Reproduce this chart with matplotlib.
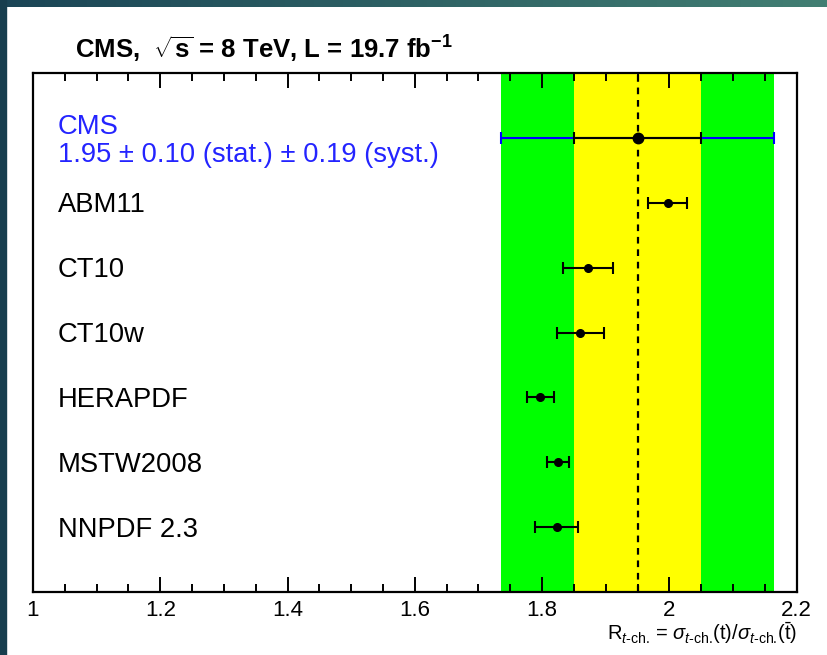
import numpy as np
import matplotlib
matplotlib.use("Agg")
import matplotlib.pyplot as plt
from matplotlib.colors import LinearSegmentedColormap
from matplotlib.patches import Rectangle
from matplotlib.ticker import MultipleLocator, FuncFormatter

plt.rcParams["font.family"] = ["Liberation Sans", "DejaVu Sans"]
plt.rcParams["mathtext.fontset"] = "custom"
plt.rcParams["mathtext.rm"] = "Liberation Sans"
plt.rcParams["mathtext.it"] = "Liberation Sans:italic"
plt.rcParams["mathtext.bf"] = "Liberation Sans:bold"

# --- datos ---
modelos = ["ABM11", "CT10", "CT10w", "HERAPDF", "MSTW2008", "NNPDF 2.3"]
ratio_teo = [1.997, 1.872, 1.860, 1.797, 1.825, 1.823]
err_teo = [0.030, 0.039, 0.037, 0.021, 0.018, 0.034]

cms_valor = 1.95
cms_stat = 0.10
cms_syst = 0.19
cms_total = np.hypot(cms_stat, cms_syst)

fig = plt.figure(figsize=(8.28, 6.55), dpi=100)

# fondo de la diapositiva (franja superior y lateral)
bg = fig.add_axes([0, 0, 1, 1], zorder=-1)
bg.set_xlim(0, 828)
bg.set_ylim(655, 0)
bg.axis("off")
cmap_bg = LinearSegmentedColormap.from_list("teal", ["#1b4556", "#427f73"])
bg.imshow(np.linspace(0, 1, 256)[None, :], extent=[0, 828, 7, 0],
          aspect="auto", cmap=cmap_bg)
bg.add_patch(Rectangle((0, 0), 6, 655, color="#173e4e"))

ax = fig.add_axes([33 / 828, 1 - 592 / 655, (796.7 - 33) / 828, (592 - 73) / 655])
ax.set_facecolor("white")

# bandas de incertidumbre de CMS
ax.axvspan(cms_valor - cms_total, cms_valor + cms_total, color="#00ff00", lw=0, zorder=0)
ax.axvspan(cms_valor - cms_stat, cms_valor + cms_stat, color="#ffff00", lw=0, zorder=0)
ax.axvline(cms_valor, color="black", lw=1.6, ls=(0, (3, 2.6)), zorder=1)

# medida CMS
ax.errorbar(cms_valor, 0, xerr=cms_total, fmt="none", ecolor="blue",
            elinewidth=1.5, capsize=4, capthick=1.5, zorder=3)
ax.errorbar(cms_valor, 0, xerr=cms_stat, fmt="o", color="black", ms=7.5,
            elinewidth=1.5, capsize=4, capthick=1.5, zorder=4)

# predicciones teoricas
filas = np.arange(1, len(modelos) + 1)
ax.errorbar(ratio_teo, filas, xerr=err_teo, fmt="o", color="black", ms=5.5,
            elinewidth=1.5, capsize=4, capthick=1.5, zorder=4)

x_texto = 1.039
ax.text(x_texto, -0.057, "CMS", color="#2424ff", fontsize=19.7, va="baseline")
ax.text(x_texto, 0.375, "1.95 \u00b1 0.10 (stat.) \u00b1 0.19 (syst.)",
        color="#2424ff", fontsize=19.7, va="baseline")
for fila, nombre in zip(filas, modelos):
    ax.text(x_texto, fila + 0.146, nombre, color="black", fontsize=19.7, va="baseline")

ax.set_xlim(1, 2.2)
ax.set_ylim(7, -1)
ax.xaxis.set_major_locator(MultipleLocator(0.2))
ax.xaxis.set_minor_locator(MultipleLocator(0.05))
ax.xaxis.set_major_formatter(FuncFormatter(lambda v, p: f"{v:g}"))
ax.tick_params(axis="x", which="both", direction="in", top=True, bottom=True,
               width=1.4, labelsize=16, pad=5.5)
ax.tick_params(axis="x", which="major", length=10.8)
ax.tick_params(axis="x", which="minor", length=5.8)
ax.tick_params(axis="y", left=False, labelleft=False)
for sp in ax.spines.values():
    sp.set_linewidth(1.6)

fig.text(75 / 828, 1 - 59 / 655,
         r"CMS,  $\sqrt{\mathbf{s}}$ = 8 TeV, L = 19.7 fb$^{\mathbf{-1}}$",
         fontsize=18.5, fontweight="bold", ha="left", va="baseline")
fig.text(797 / 828, 1 - 640 / 655,
         r"R$_{t\text{-ch.}}$ = $\sigma_{t\text{-ch.}}$(t)/$\sigma_{t\text{-ch.}}$($\bar{\mathrm{t}}$)",
         fontsize=14.5, ha="right", va="baseline")

fig.savefig("out.png", dpi=100)
